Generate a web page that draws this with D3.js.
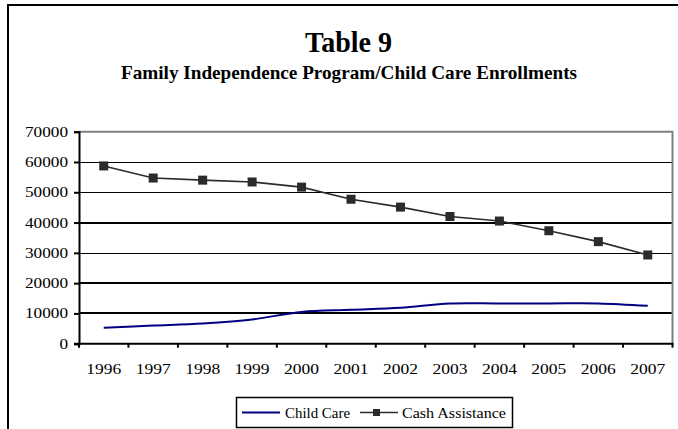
<!DOCTYPE html>
<html>
<head>
<meta charset="utf-8">
<script src="https://cdn.jsdelivr.net/npm/d3@7"></script>
<style>
  html, body { margin: 0; padding: 0; background: #fff; }
  svg { display: block; }
  svg text { font-family: "Liberation Serif", "Times New Roman", serif !important; fill: #000; }
</style>
</head>
<body>
<svg id="chart" width="678" height="429"></svg>
<script>
// ---- data ----
const years = ["1996","1997","1998","1999","2000","2001","2002","2003","2004","2005","2006","2007"];
const childCare = [5300, 6000, 6700, 8000, 10500, 11200, 11900, 13300, 13300, 13300, 13300, 12500];
const cashAssistance = [58700, 54700, 54000, 53400, 51700, 47700, 45100, 42000, 40500, 37300, 33700, 29300];
const yTicks = [0, 10000, 20000, 30000, 40000, 50000, 60000, 70000];
const titleText = "Table 9";
const subtitleText = "Family Independence Program/Child Care Enrollments";
const seriesNames = ["Child Care", "Cash Assistance"];

// ---- layout ----
const svg = d3.select("#chart");
const plot = { left: 79, right: 672.5, top: 131.7, bottom: 343.7 };
const x = d3.scaleBand().domain(years).range([plot.left, plot.right]).padding(0);
const y = d3.scaleLinear().domain([0, 70000]).range([plot.bottom, plot.top]);
const cx = d => x(d) + x.bandwidth() / 2;

// outer frame
svg.append("path")
  .attr("d", "M8,429 L8,5 L678,5")
  .attr("fill", "none").attr("stroke", "#000").attr("stroke-width", 2);

// titles
svg.append("text").attr("x", 348.5).attr("y", 52)
  .attr("text-anchor", "middle").attr("font-size", 30).attr("font-weight", "bold")
  .attr("textLength", 87).attr("lengthAdjust", "spacingAndGlyphs")
  .text(titleText);
svg.append("text").attr("x", 349).attr("y", 79)
  .attr("text-anchor", "middle").attr("font-size", 19).attr("font-weight", "bold")
  .attr("textLength", 456).attr("lengthAdjust", "spacingAndGlyphs")
  .text(subtitleText);

// gridlines
const thick = new Set([0, 10000, 20000, 40000]);
svg.append("g").selectAll("line")
  .data(yTicks.filter(t => t > 0 && t < 70000))
  .join("line")
  .attr("x1", plot.left).attr("x2", plot.right)
  .attr("y1", d => Math.round(y(d)) + (thick.has(d) ? 0 : 0.5))
  .attr("y2", d => Math.round(y(d)) + (thick.has(d) ? 0 : 0.5))
  .attr("stroke", "#000").attr("stroke-width", d => thick.has(d) ? 2 : 1);

// plot area border (grey top & right)
svg.append("path")
  .attr("d", `M${plot.left},${plot.top} L${plot.right},${plot.top} L${plot.right},${plot.bottom}`)
  .attr("fill", "none").attr("stroke", "#808080").attr("stroke-width", 2);

// y axis
const yAxis = d3.axisLeft(y).tickValues(yTicks).tickSize(5).tickPadding(6).tickFormat(d3.format("d"));
const gy = svg.append("g").attr("transform", `translate(${plot.left},0)`).call(yAxis);
gy.attr("font-family", null);
gy.select(".domain").attr("stroke", "#000").attr("stroke-width", 2);
gy.selectAll(".tick line").attr("stroke", "#000").attr("stroke-width", 2);
gy.selectAll(".tick text")
  .attr("font-size", 14)
  .attr("x", -11)
  .each(function(d) {
    const s = String(d);
    d3.select(this).attr("textLength", s.length * 8.6).attr("lengthAdjust", "spacingAndGlyphs");
  });

// x axis with ticks between categories
svg.append("line")
  .attr("x1", plot.left - 5).attr("x2", plot.right + 1)
  .attr("y1", plot.bottom).attr("y2", plot.bottom)
  .attr("stroke", "#000").attr("stroke-width", 2);
const tickPos = years.map(d => x(d)).concat([x(years[years.length - 1]) + x.bandwidth()]);
svg.append("g").selectAll("line").data(tickPos).join("line")
  .attr("x1", d => d).attr("x2", d => d)
  .attr("y1", plot.bottom).attr("y2", plot.bottom + 4)
  .attr("stroke", "#000").attr("stroke-width", 2);
svg.append("g").selectAll("text").data(years).join("text")
  .attr("x", d => cx(d)).attr("y", 374)
  .attr("text-anchor", "middle").attr("font-size", 14)
  .attr("textLength", 35).attr("lengthAdjust", "spacingAndGlyphs")
  .text(d => d);

// child care line (smoothed)
const ccLine = d3.line().x((d, i) => cx(years[i])).y(d => y(d)).curve(d3.curveCatmullRom.alpha(0.5));
svg.append("path").datum(childCare)
  .attr("d", ccLine).attr("fill", "none")
  .attr("stroke", "#000080").attr("stroke-width", 2);

// cash assistance line + square markers
const caLine = d3.line().x((d, i) => cx(years[i])).y(d => y(d));
svg.append("path").datum(cashAssistance)
  .attr("d", caLine).attr("fill", "none")
  .attr("stroke", "#2b2b2b").attr("stroke-width", 1.6);
const ms = 9;
svg.append("g").selectAll("rect").data(cashAssistance).join("rect")
  .attr("x", (d, i) => cx(years[i]) - ms / 2).attr("y", d => y(d) - ms / 2)
  .attr("width", ms).attr("height", ms).attr("fill", "#2b2b2b");

// legend
const lg = svg.append("g");
lg.append("rect").attr("x", 236.5).attr("y", 397.5).attr("width", 276).attr("height", 30)
  .attr("fill", "#fff").attr("stroke", "#000").attr("stroke-width", 1.5);
lg.append("line").attr("x1", 242).attr("x2", 280).attr("y1", 412.5).attr("y2", 412.5)
  .attr("stroke", "#000080").attr("stroke-width", 2);
lg.append("text").attr("x", 285).attr("y", 417.5).attr("font-size", 14)
  .attr("textLength", 65).attr("lengthAdjust", "spacingAndGlyphs").text(seriesNames[0]);
lg.append("line").attr("x1", 360).attr("x2", 398).attr("y1", 412.5).attr("y2", 412.5)
  .attr("stroke", "#2b2b2b").attr("stroke-width", 1.6);
lg.append("rect").attr("x", 376.5 - 3.5).attr("y", 412.5 - 3.5).attr("width", 7).attr("height", 7)
  .attr("fill", "#2b2b2b");
lg.append("text").attr("x", 402).attr("y", 417.5).attr("font-size", 14)
  .attr("textLength", 104).attr("lengthAdjust", "spacingAndGlyphs").text(seriesNames[1]);
</script>
</body>
</html>
